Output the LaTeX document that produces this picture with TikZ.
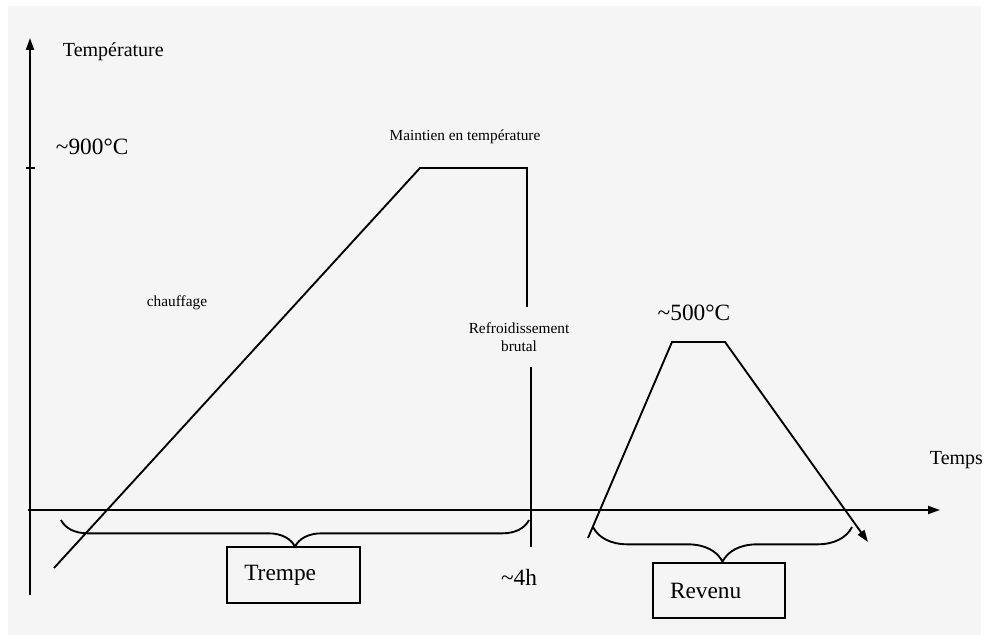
\documentclass[tikz,border=0pt]{standalone}
\usepackage{fontspec}
\setmainfont{Liberation Serif}
\usetikzlibrary{arrows.meta,decorations.pathreplacing}

\tikzset{every picture/.style={line width=1.4pt}}
\tikzset{
  petit/.style={font=\fontsize{11.5}{13.5}\selectfont, inner sep=0pt},
  moyen/.style={font=\fontsize{15}{17}\selectfont, inner sep=0pt},
  grand/.style={font=\fontsize{17.5}{20}\selectfont, inner sep=0pt},
  boite/.style={draw, font=\fontsize{17.5}{20}\selectfont, inner sep=0pt},
  accolade/.style={decorate, decoration={brace, mirror, amplitude=#1}},
  fleche/.style={-{Triangle[length=9pt, width=6pt]}}
}

\begin{document}
\begin{tikzpicture}[x=0.75pt,y=0.75pt,yscale=-1,xscale=1]
\useasboundingbox (0,0) rectangle (985,635);
\clip (0,0) rectangle (985,635);
\fill[white] (0,0) rectangle (985,635);
\fill[black!4] (8,6) rectangle (981,635);

% Axes
\coordinate (ybas) at (30,595);
\coordinate (yhaut) at (30,38);
\coordinate (xgauche) at (28,510);
\coordinate (xdroite) at (940,510);
\draw[fleche] (ybas) -- (yhaut);
\draw[fleche] (xgauche) -- (xdroite);
\node[moyen, anchor=west] (temperature) at (62,52) {Température};
\node[moyen, anchor=west] (temps) at (929,460) {Temps};

% Tick 900
\coordinate (tick) at (30,168);
\draw ([xshift=-3pt]tick) -- ([xshift=4pt]tick);
\node[grand, anchor=west] (t900) at (55,147) {\char`\~900°C};

% Trempe
\coordinate (depart) at (54,568);
\coordinate (palier1) at (420,168);
\coordinate (palier2) at (527,168);
\coordinate (fin) at (531,547);
\node[petit, align=center, inner ysep=11pt] (refroid) at (519,337) {Refroidissement\\brutal};
\draw (depart) -- (palier1) -- (palier2) -- (palier2 |- refroid.north);
\draw (fin |- refroid.south) -- (fin);
\node[petit] (maintien) at (465,137) {Maintien en température};
\node[petit] (chauffage) at (177,303) {chauffage};
\node[grand] (quatreh) at (519,577) {\char`\~4h};

\coordinate (acc1) at (61,520);
\coordinate (acc2) at (529,520);
\draw[accolade=20pt] (acc1) -- (acc2);
\node[boite, minimum width=100pt, minimum height=42pt] (trempe) at (293.5,575) {Trempe\hspace*{20pt}};

% Revenu
\coordinate (r0) at (588,538);
\coordinate (r1) at (672,342);
\coordinate (r2) at (725,342);
\coordinate (r3) at (868,542);
\draw[fleche] (r0) -- (r1) -- (r2) -- (r3);
\node[grand] (t500) at (694,313) {\char`\~500°C};

\coordinate (acc3) at (593,527);
\coordinate (acc4) at (852,527);
\draw[accolade=26pt] (acc3) -- (acc4);
\node[boite, minimum width=99pt, minimum height=41pt] (revenu) at (719,590.5) {Revenu\hspace*{20pt}};

\end{tikzpicture}
\end{document}
